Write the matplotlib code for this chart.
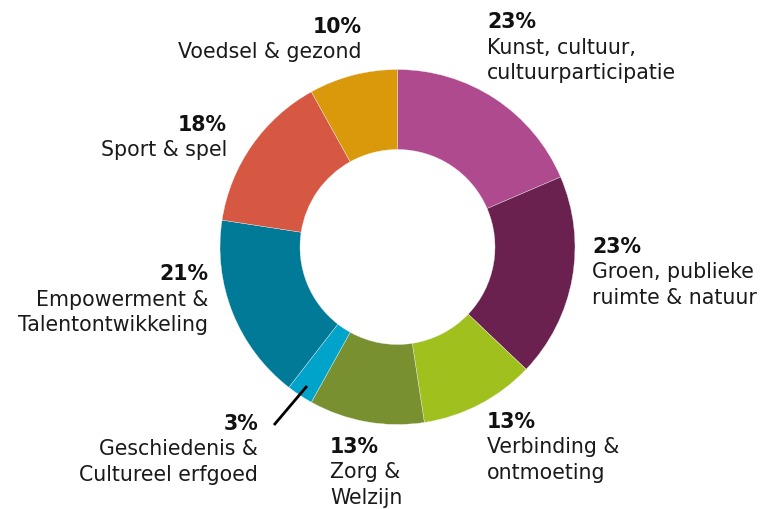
import matplotlib
matplotlib.use("Agg")
import matplotlib.pyplot as plt

categories = ["Kunst, cultuur,\ncultuurparticipatie",
              "Groen, publieke\nruimte & natuur",
              "Verbinding &\nontmoeting",
              "Zorg &\nWelzijn",
              "Geschiedenis &\nCultureel erfgoed",
              "Empowerment &\nTalentontwikkeling",
              "Sport & spel",
              "Voedsel & gezond"]
values = [23, 23, 13, 13, 3, 21, 18, 10]
colors = ["#B04A8F", "#6A2150", "#A0C01E", "#789030",
          "#00A3C9", "#007A96", "#D65742", "#DA990A"]

W, H = 763, 510
fig = plt.figure(figsize=(W / 100, H / 100), dpi=100)
ax = fig.add_axes([0, 0, 1, 1])

cx, cy, R = 397.5, 248, 177.5
ax.pie(values, colors=colors, startangle=90, counterclock=False,
       center=(cx, H - cy), radius=R, frame=True,
       wedgeprops=dict(width=80, linewidth=0.25, edgecolor="#f4f4f4"))
ax.set_xlim(0, W)
ax.set_ylim(0, H)
ax.set_aspect("equal")
ax.axis("off")

FONT = "DejaVu Sans"
FS = 14.8
# (x, y of percent line, horizontal alignment)
pos = [(487, 22, "left"),
       (592, 247, "left"),
       (487, 422, "left"),
       (330, 447, "left"),
       (258, 424, "right"),
       (208, 274, "right"),
       (227, 125, "right"),
       (362, 27, "right")]
LS = 25.5
for cat, v, (x, y, ha) in zip(categories, values, pos):
    ax.text(x, H - y, f"{v}%", ha=ha, va="center", fontsize=FS,
            fontweight="bold", family=FONT, color="#111111")
    for i, line in enumerate(cat.split("\n")):
        ax.text(x, H - (y + LS * (i + 1)), line, ha=ha, va="center",
                fontsize=FS, family=FONT, color="#1a1a1a")

ax.plot([307, 274], [H - 387, H - 426], color="black", lw=2,
        solid_capstyle="butt")

fig.savefig("out.png", dpi=100)
